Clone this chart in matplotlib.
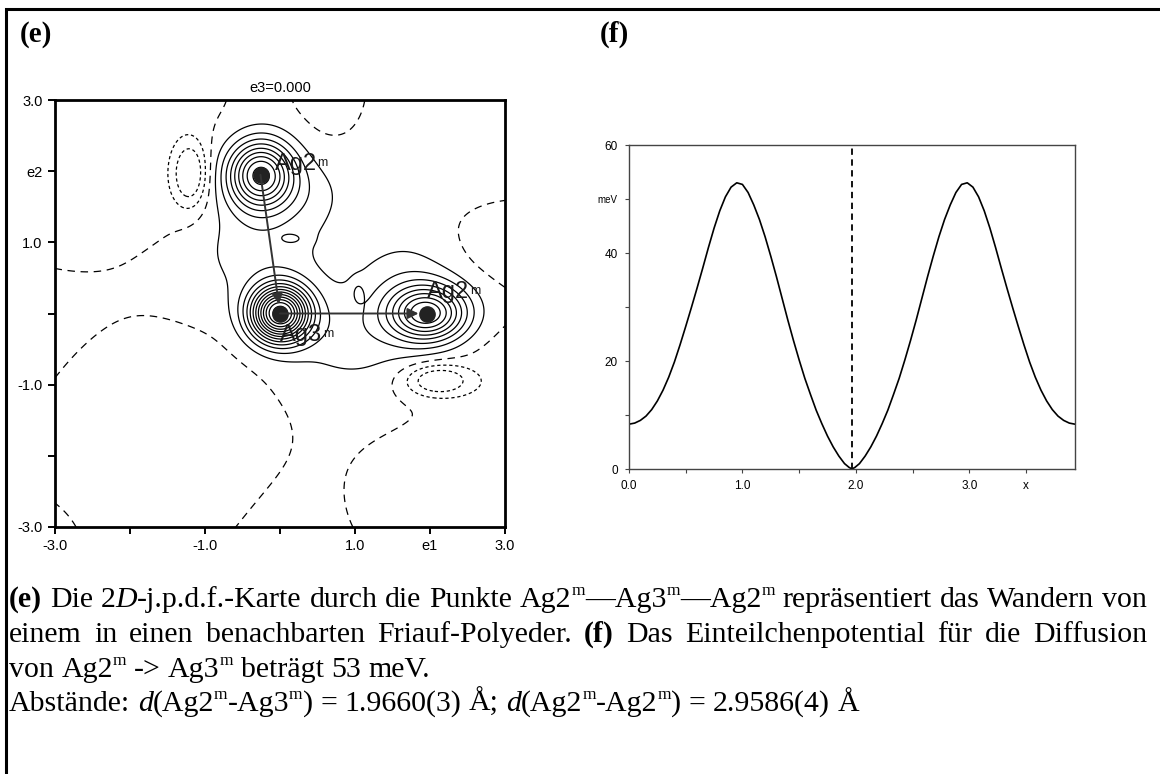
import numpy as np
import matplotlib
matplotlib.use("Agg")
import matplotlib.pyplot as plt
from matplotlib.patches import Rectangle

W, H = 1160, 774

# interatomic distances (Angstrom)
d_ag2_ag3 = 1.9660
d_ag2_ag2 = 2.9586

# ---- (e) 2D j.p.d.f. map, plane through Ag2m - Ag3m - Ag2m ----
site_label = ["Ag3", "Ag2", "Ag2"]
site_x = [0.0, -0.26, d_ag2_ag3]
site_y = [0.0, 1.949, 0.0]
site_peak = [13.0, 9.0, 8.2]
site_sx = [0.27, 0.30, 0.36]
site_sy = [0.27, 0.33, 0.27]

# diffuse density between the sites, plus two weak local maxima
bridge_x = [-0.30, 0.95, 1.70, 0.40, 0.17, 1.04]
bridge_y = [0.95, -0.32, 0.50, 1.70, 1.05, 0.30]
bridge_amp = [1.30, 1.30, 1.10, 0.80, 0.90, 1.00]
bridge_sx = [0.62, 0.62, 0.45, 0.35, 0.12, 0.06]
bridge_sy = [0.60, 0.48, 0.42, 0.35, 0.06, 0.11]

# smooth background (floored so it never reaches the -1 contour)
bg_level = 0.25
bg_floor = -0.85
bg_x = [-2.7, -1.35, -1.35, -2.2, -3.2, 2.0, 3.1, 3.25, 0.66]
bg_y = [2.7, 1.55, -1.35, -2.6, -3.2, -2.6, -0.95, 0.98, 3.2]
bg_amp = [-1.1, -0.30, -0.85, -0.9, 1.1, -0.45, -0.8, -0.85, -0.78]
bg_sx = [1.2, 0.4, 0.9, 0.9, 0.4, 1.0, 0.6, 0.7, 0.32]
bg_sy = [1.2, 0.4, 0.8, 0.9, 0.4, 1.0, 0.6, 0.4, 0.5]

# the two negative minima
well_x = [-1.20, 2.10]
well_y = [1.97, -0.94]
well_amp = [-3.2, -3.2]
well_sx = [0.16, 0.31]
well_sy = [0.32, 0.16]

# ---- (f) one-particle potential, Ag2 -> Ag3 half of the path ----
path_x = [0.00, 0.05, 0.10, 0.15, 0.20, 0.25, 0.30, 0.35, 0.40, 0.45, 0.50,
          0.55, 0.60, 0.65, 0.70, 0.75, 0.80, 0.85, 0.90, 0.95, 1.00, 1.05,
          1.10, 1.15, 1.20, 1.25, 1.30, 1.35, 1.40, 1.45, 1.50, 1.55, 1.60,
          1.65, 1.70, 1.75, 1.80, 1.85, 1.90, 1.94, 1.966]
path_mev = [8.3, 8.5, 9.0, 9.8, 11.0, 12.6, 14.6, 17.0, 19.8, 23.0, 26.4,
            29.9, 33.5, 37.2, 41.0, 44.6, 47.8, 50.4, 52.2, 53.0, 52.7, 51.2,
            48.9, 46.2, 43.0, 39.4, 35.6, 31.6, 27.6, 23.8, 20.2, 16.8, 13.8,
            10.9, 8.4, 6.1, 4.1, 2.4, 1.0, 0.3, 0.0]

caption = [
    ("**(e)** Die 2*D*-j.p.d.f.-Karte durch die Punkte Ag2^m—Ag3^m—Ag2^m "
     "repräsentiert das Wandern von", True),
    ("einem in einen benachbarten Friauf-Polyeder. **(f)** Das "
     "Einteilchenpotential für die Diffusion", True),
    ("von Ag2^m -> Ag3^m beträgt {:.0f} meV.".format(max(path_mev)), False),
    ("Abstände: *d*(Ag2^m-Ag3^m) = {:.4f}(3) Å; *d*(Ag2^m-Ag2^m) = "
     "{:.4f}(4) Å".format(d_ag2_ag3, d_ag2_ag2), False),
]
caption_base = [607, 642, 677, 711]

fig = plt.figure(figsize=(W / 100, H / 100), dpi=100)
renderer = fig.canvas.get_renderer()


def fbox(left, top, right, bottom):
    return [left / W, 1 - bottom / H, (right - left) / W, (bottom - top) / H]


# frame around the whole figure
fig.add_artist(Rectangle((6 / W, -0.2), 1.5, 1.2 - 9 / H, transform=fig.transFigure,
                         fill=False, lw=2.2, ec="k"))

serif = "Liberation Serif"
sans = "Liberation Sans"
fig.text(20 / W, 1 - 42 / H, "(e)", family=serif, weight="bold", size=21)
fig.text(600 / W, 1 - 42 / H, "(f)", family=serif, weight="bold", size=21)

# ---------------- panel (e) ----------------
gx = np.linspace(-3, 3, 481)
X, Y = np.meshgrid(gx, gx)


def blob(x0, y0, a, sx, sy):
    return a * np.exp(-0.5 * (((X - x0) / sx) ** 2 + ((Y - y0) / sy) ** 2))


bg = np.full_like(X, bg_level)
for p in zip(bg_x, bg_y, bg_amp, bg_sx, bg_sy):
    bg += blob(*p)
Z = np.maximum(bg, bg_floor)
for p in zip(site_x, site_y, site_peak, site_sx, site_sy):
    Z += blob(*p)
for p in zip(bridge_x, bridge_y, bridge_amp, bridge_sx, bridge_sy):
    Z += blob(*p)
for p in zip(well_x, well_y, well_amp, well_sx, well_sy):
    Z += blob(*p)

ax = fig.add_axes(fbox(55, 100, 505, 527))
ax.contour(X, Y, Z, levels=np.arange(1, 14), colors="k", linewidths=0.9)
cz = ax.contour(X, Y, Z, levels=[0], colors="k", linewidths=0.9)
cz.set_linestyle((0, (6, 4.5)))
cn = ax.contour(X, Y, Z, levels=[-2, -1], colors="k", linewidths=0.9)
cn.set_linestyle((0, (2.6, 2.2)))

ax.plot(site_x, site_y, "o", ms=11, color="#222222", zorder=5)
top, mid, right = (site_x[1], site_y[1]), (site_x[0], site_y[0]), (site_x[2], site_y[2])
arrow = dict(arrowstyle="-|>", color="#333333", lw=1.4, mutation_scale=16,
             shrinkA=0, shrinkB=0)
ax.annotate("", xy=(mid[0] - 0.015, mid[1] + 0.13), xytext=top, arrowprops=arrow, zorder=6)
ax.annotate("", xy=(right[0] - 0.12, right[1]), xytext=mid, arrowprops=arrow, zorder=6)

label_pos = [(0.0, -0.38), (-0.07, 2.02), (1.96, 0.22)]
for name, (lx, ly) in zip(site_label, label_pos):
    t = ax.text(lx, ly, name, family=sans, size=17, color="#1a1a1a", zorder=7)
    ax.annotate("m", xy=(1, 1), xycoords=t, xytext=(0.5, -3), textcoords="offset points",
                family=sans, size=9, color="#1a1a1a", va="top", zorder=7)

ax.set_xlim(-3, 3)
ax.set_ylim(-3, 3)
ax.set_xticks(np.arange(-3, 4))
ax.set_xticklabels(["-3.0", "", "-1.0", "", "1.0", "e1", "3.0"])
ax.set_yticks(np.arange(-3, 4))
ax.set_yticklabels(["-3.0", "", "-1.0", "", "1.0", "e2", "3.0"])
ax.tick_params(direction="out", length=5, width=1.4, labelsize=10.5, pad=4)
for lab in ax.get_xticklabels() + ax.get_yticklabels():
    lab.set_family(sans)
for sp in ax.spines.values():
    sp.set_linewidth(2)
ax.set_title("e3=0.000", family=sans, fontsize=10.5, pad=6)

# ---------------- panel (f) ----------------
# the path Ag2 -> Ag3 -> Ag2 is mirror symmetric about the Ag3 site
pot_x = np.concatenate([path_x, 2 * d_ag2_ag3 - np.array(path_x[-2::-1])])
pot_v = np.concatenate([path_mev, path_mev[-2::-1]])

bx = fig.add_axes(fbox(629, 145, 1075, 469))
bx.plot(pot_x, pot_v, color="k", lw=1.2)
bx.axvline(d_ag2_ag3, color="k", lw=1.3, ls=(0, (3.5, 2.5)))
bx.set_xlim(0, 2 * d_ag2_ag3)
bx.set_ylim(0, 60)
bx.set_xticks(np.arange(0, 4.0, 0.5))
bx.set_xticklabels(["0.0", "", "1.0", "", "2.0", "", "3.0", "x"])
bx.set_yticks(np.arange(0, 61, 10))
bx.set_yticklabels(["0", "", "20", "", "40", "meV", "60"])
bx.tick_params(direction="out", length=3, width=0.8, labelsize=8.5, pad=5,
               color="#444444")
for lab in bx.get_xticklabels() + bx.get_yticklabels():
    lab.set_family(sans)
bx.get_yticklabels()[5].set_fontsize(7)
for sp in bx.spines.values():
    sp.set_linewidth(1.0)
    sp.set_color("#444444")

# ---------------- caption ----------------
FS = 21.5
SUP = 0.58


def parse(word):
    runs, buf, style, i = [], "", "r", 0
    while i < len(word):
        if word.startswith("**", i):
            if buf:
                runs.append((buf, style))
                buf = ""
            style = "r" if style == "b" else "b"
            i += 2
        elif word[i] == "*":
            if buf:
                runs.append((buf, style))
                buf = ""
            style = "r" if style == "i" else "i"
            i += 1
        elif word[i] == "^":
            if buf:
                runs.append((buf, style))
                buf = ""
            runs.append((word[i + 1], "s"))
            i += 2
        else:
            buf += word[i]
            i += 1
    if buf:
        runs.append((buf, style))
    return runs


def make(s, st):
    kw = dict(family=serif, size=FS, va="baseline", ha="left")
    if st == "b":
        kw["weight"] = "bold"
    elif st == "i":
        kw["style"] = "italic"
    elif st == "s":
        kw["size"] = FS * SUP
    t = fig.text(0, 0, s, **kw)
    return t, t.get_window_extent(renderer).width


probe = fig.text(0, 0, "n n", family=serif, size=FS)
probe2 = fig.text(0, 0, "nn", family=serif, size=FS)
space = probe.get_window_extent(renderer).width - probe2.get_window_extent(renderer).width
probe.remove()
probe2.remove()

x_left, x_right = 9, 1147
for (line, justify), base in zip(caption, caption_base):
    words = []
    for w in line.split(" "):
        items = [make(s, st) + (st,) for s, st in parse(w)]
        words.append((items, sum(it[1] for it in items)))
    total = sum(w[1] for w in words)
    gap = (x_right - x_left - total) / (len(words) - 1) if justify else space
    x = x_left
    for items, width in words:
        for t, wd, st in items:
            lift = FS * 0.40 * 100 / 72 if st == "s" else 0
            t.set_position((x / W, (H - base + lift) / H))
            x += wd
        x += gap

fig.savefig("out.png", dpi=100)
